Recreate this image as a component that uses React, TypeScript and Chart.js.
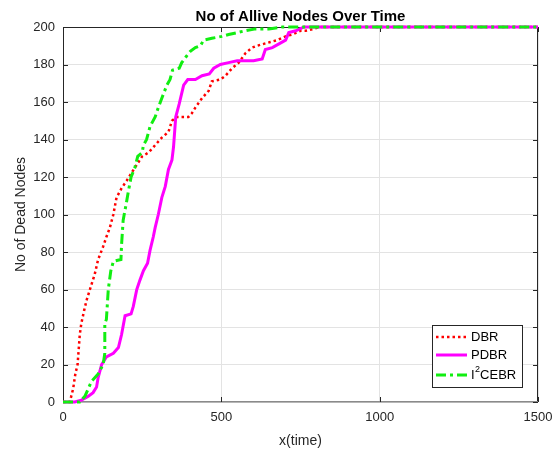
import React, { useEffect, useRef } from "react";
import { Chart, registerables } from "chart.js";
Chart.register(...registerables);

const TITLE = "No of Allive Nodes Over Time";
const X_LABEL = "x(time)";
const Y_LABEL = "No of Dead Nodes";
const SERIES_NAMES = ["DBR", "PDBR", "I2CEBR"];

const dbrX = [0, 21, 26, 32, 39, 46, 50, 53, 58, 67, 74, 85, 100, 111, 127, 137, 148, 159, 169, 185, 201, 227, 250, 270, 291, 312, 333, 344, 360, 396, 407, 418, 439, 460, 470, 497, 513, 534, 555, 576, 597, 613, 634, 655, 677, 703, 724, 750, 766, 792, 810, 1500];
const dbrY = [0, 0, 3, 7, 15, 20, 29, 36, 42, 49, 54, 60, 68, 76, 83, 88, 93, 100, 109, 114, 118, 125, 131, 133, 137, 141, 144, 150, 152, 152, 154, 157, 162, 166, 171, 172, 174, 178, 181, 186, 189, 190, 191, 192, 193, 195, 196, 198, 198, 199, 200, 200];

const pdbrX = [0, 37, 58, 79, 95, 106, 111, 122, 137, 159, 175, 185, 196, 215, 222, 233, 243, 254, 267, 275, 285, 291, 301, 312, 323, 333, 344, 349, 356, 367, 381, 394, 418, 439, 462, 476, 497, 523, 550, 602, 629, 639, 661, 682, 703, 713, 735, 761, 1500];
const pdbrY = [0, 0, 1, 3, 5, 8, 13, 20, 24, 26, 29, 36, 46, 47, 51, 60, 65, 70, 74, 81, 88, 93, 100, 109, 115, 124, 129, 136, 152, 159, 169, 172, 172, 174, 175, 178, 180, 181, 182, 182, 183, 188, 189, 191, 193, 197, 198, 200, 200];

const cebrX = [0, 53, 69, 90, 111, 127, 132, 132, 137, 143, 151, 159, 183, 185, 190, 201, 206, 215, 227, 236, 250, 254, 264, 275, 291, 301, 312, 328, 338, 346, 367, 375, 388, 402, 418, 434, 444, 470, 502, 523, 550, 576, 608, 650, 692, 1500];
const cebrY = [0, 0, 3, 11, 15, 20, 26, 42, 44, 60, 70, 75, 76, 84, 97, 107, 112, 120, 125, 131, 133, 137, 140, 147, 152, 157, 162, 169, 172, 177, 178, 181, 184, 187, 189, 190, 193, 194, 195, 196, 197, 198, 199, 199, 200, 200];

const X_TICKS = [0, 500, 1000, 1500];
const Y_TICKS = [0, 20, 40, 60, 80, 100, 120, 140, 160, 180, 200];

const FONT = "'Liberation Sans', Arial, sans-serif";
const AXIS = "#262626";
const COLORS = ["#ff0000", "#ff00ff", "#11ee11"];
const DASHES = [[2.5, 3], [], [10, 4, 3, 4]];
const WIDTHS = [2.5, 3, 3];

const toPts = (xs: number[], ys: number[]) => xs.map((x, i) => ({ x, y: ys[i] }));

const decor = {
  id: "decor",
  beforeDatasetsDraw(chart: any) {
    const { ctx, chartArea: a, scales } = chart;
    ctx.save();
    ctx.strokeStyle = AXIS;
    ctx.lineWidth = 1;
    ctx.beginPath();
    ctx.moveTo(a.left + 0.5, a.top + 0.5);
    ctx.lineTo(a.right - 0.5, a.top + 0.5);
    ctx.lineTo(a.right - 0.5, a.bottom);
    ctx.moveTo(a.left + 0.5, a.top);
    ctx.lineTo(a.left + 0.5, a.bottom);
    ctx.stroke();
    ctx.strokeStyle = "#8a8a8a";
    ctx.lineWidth = 1.5;
    ctx.beginPath();
    ctx.moveTo(a.left, a.bottom - 0.25);
    ctx.lineTo(a.right, a.bottom - 0.25);
    ctx.stroke();
    ctx.strokeStyle = AXIS;
    ctx.lineWidth = 1;
    ctx.beginPath();
    const tl = 5;
    X_TICKS.forEach((v) => {
      const px = Math.round(scales.x.getPixelForValue(v)) + 0.5;
      ctx.moveTo(px, a.bottom);
      ctx.lineTo(px, a.bottom - tl);
      ctx.moveTo(px, a.top);
      ctx.lineTo(px, a.top + tl);
    });
    Y_TICKS.forEach((v) => {
      const py = Math.round(scales.y.getPixelForValue(v)) + 0.5;
      ctx.moveTo(a.left, py);
      ctx.lineTo(a.left + tl, py);
      ctx.moveTo(a.right, py);
      ctx.lineTo(a.right - tl, py);
    });
    ctx.stroke();
    ctx.restore();
  },
  afterDraw(chart: any) {
    const { ctx, chartArea: a } = chart;
    ctx.save();
    const cx = (a.left + a.right) / 2;
    ctx.fillStyle = "#000";
    ctx.font = `bold 15px ${FONT}`;
    ctx.textAlign = "center";
    ctx.textBaseline = "alphabetic";
    ctx.fillText(TITLE, cx, 21);
    ctx.fillStyle = AXIS;
    ctx.font = `14px ${FONT}`;
    ctx.fillText(X_LABEL, cx, 445);
    ctx.save();
    ctx.translate(25, (a.top + a.bottom) / 2);
    ctx.rotate(-Math.PI / 2);
    ctx.fillText(Y_LABEL, 0, 0);
    ctx.restore();

    // legend
    const bx = 432, by = 325, bw = 90, bh = 62;
    ctx.fillStyle = "#fff";
    ctx.fillRect(bx, by, bw, bh);
    ctx.strokeStyle = AXIS;
    ctx.lineWidth = 1;
    ctx.strokeRect(bx + 0.5, by + 0.5, bw, bh);
    const rows = [337, 355, 375];
    rows.forEach((ry, i) => {
      ctx.save();
      ctx.strokeStyle = COLORS[i];
      ctx.lineWidth = WIDTHS[i];
      ctx.setLineDash(DASHES[i]);
      ctx.beginPath();
      ctx.moveTo(436, ry);
      ctx.lineTo(467, ry);
      ctx.stroke();
      ctx.restore();
      ctx.fillStyle = "#000";
      ctx.textAlign = "left";
      ctx.textBaseline = "middle";
      ctx.font = `13px ${FONT}`;
      const name = SERIES_NAMES[i];
      if (name === "I2CEBR") {
        let x = 471;
        ctx.fillText("I", x, ry);
        x += ctx.measureText("I").width + 0.5;
        ctx.font = `9px ${FONT}`;
        ctx.fillText("2", x, ry - 5);
        x += ctx.measureText("2").width;
        ctx.font = `13px ${FONT}`;
        ctx.fillText("CEBR", x, ry);
      } else {
        ctx.fillText(name, 471, ry);
      }
    });
    ctx.restore();
  },
};

export default function App() {
  const ref = useRef<HTMLCanvasElement>(null);
  useEffect(() => {
    const chart = new Chart(ref.current as HTMLCanvasElement, {
      type: "line",
      data: {
        datasets: [
          { label: SERIES_NAMES[0], data: toPts(dbrX, dbrY), borderColor: COLORS[0], borderWidth: WIDTHS[0], borderDash: DASHES[0], pointRadius: 0, tension: 0, order: 3, clip: false as any },
          { label: SERIES_NAMES[1], data: toPts(pdbrX, pdbrY), borderColor: COLORS[1], borderWidth: WIDTHS[1], borderDash: DASHES[1], pointRadius: 0, tension: 0, order: 2, clip: false as any },
          { label: SERIES_NAMES[2], data: toPts(cebrX, cebrY), borderColor: COLORS[2], borderWidth: WIDTHS[2], borderDash: DASHES[2], pointRadius: 0, tension: 0, order: 1, clip: false as any },
        ],
      },
      options: {
        animation: false,
        responsive: false,
        devicePixelRatio: 1,
        layout: { padding: { top: 27, right: 17, left: 0, bottom: 0 } },
        plugins: { legend: { display: false }, tooltip: { enabled: false }, title: { display: false } },
        scales: {
          x: {
            type: "linear",
            min: 0,
            max: 1500,
            afterBuildTicks: (s: any) => { s.ticks = X_TICKS.map((v) => ({ value: v })); },
            afterFit: (s: any) => { s.height = 48; s.paddingLeft = 0; s.paddingRight = 0; },
            ticks: { color: AXIS, font: { family: FONT, size: 13 }, padding: 8, maxRotation: 0, callback: (v: any) => String(v) },
            grid: { color: "#e3e3e3", drawTicks: false },
            border: { display: false },
          },
          y: {
            type: "linear",
            min: 0,
            max: 200,
            afterBuildTicks: (s: any) => { s.ticks = Y_TICKS.map((v) => ({ value: v })); },
            afterFit: (s: any) => { s.width = 63; s.paddingTop = 0; s.paddingBottom = 0; },
            ticks: { color: AXIS, font: { family: FONT, size: 13 }, padding: 8, callback: (v: any) => String(v) },
            grid: { color: "#e3e3e3", drawTicks: false },
            border: { display: false },
          },
        },
      },
      plugins: [decor],
    } as any);
    return () => chart.destroy();
  }, []);
  return (
    <div style={{ position: "absolute", left: 0, top: 0 }}>
      <canvas ref={ref} width={555} height={450} style={{ display: "block" }} />
    </div>
  );
}
